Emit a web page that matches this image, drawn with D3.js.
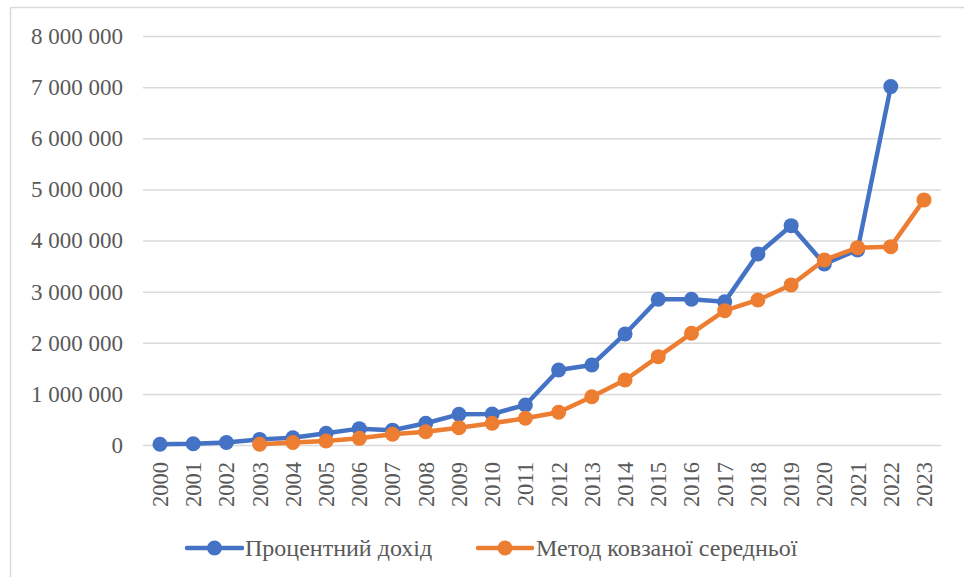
<!DOCTYPE html>
<html>
<head>
<meta charset="utf-8">
<script src="https://cdn.jsdelivr.net/npm/d3@7"></script>
<style>
  html, body { margin: 0; padding: 0; background: #fff; }
  svg { display: block; font-family: "Liberation Serif", "Times New Roman", serif; }
</style>
</head>
<body>
<svg id="chart" width="964" height="577"></svg>
<script>
const years = ["2000","2001","2002","2003","2004","2005","2006","2007","2008","2009","2010","2011",
               "2012","2013","2014","2015","2016","2017","2018","2019","2020","2021","2022","2023"];
const interestIncome = [15000, 25000, 50000, 110000, 143000, 229000, 320000, 290000, 425000, 600000, 607000, 783000,
                        1468000, 1566000, 2172000, 2850000, 2850000, 2800000, 3738000, 4290000, 3542000, 3816000, 7010000, null];
const movingAverage = [null, null, null, 15000, 50000, 78000, 130000, 210000, 260000, 339000, 425000, 522000,
                       640000, 945000, 1272000, 1728000, 2185000, 2628000, 2837000, 3131000, 3620000, 3860000, 3880000, 4794000];
const yTicks = [0, 1000000, 2000000, 3000000, 4000000, 5000000, 6000000, 7000000, 8000000];
const seriesNames = ["Процентний дохід", "Метод ковзаної середньої"];
const seriesColors = ["#4472C4", "#ED7D31"];

const svg = d3.select("#chart");
const textColor = "#595959";
const serif = '"Liberation Serif", "Times New Roman", serif';

// chart frame (left & top borders visible)
svg.append("rect").attr("x", 10.5).attr("y", 7.5).attr("width", 1000).attr("height", 600)
  .attr("fill", "none").attr("stroke", "#D9D9D9").attr("stroke-width", 1.5);

const plot = { left: 143, right: 941, top: 36, bottom: 445 };

const x = d3.scalePoint().domain(years).range([160, 924]);
const y = d3.scaleLinear().domain([0, 8000000]).range([plot.bottom, plot.top]);

const locale = d3.formatLocale({ decimal: ",", thousands: " ", grouping: [3], currency: ["", ""] });
const fmt = locale.format(",d");

// y axis with gridlines
const yAxis = svg.append("g")
  .attr("transform", `translate(${plot.left},0)`)
  .call(d3.axisLeft(y).tickValues(yTicks).tickFormat(fmt)
        .tickSize(-(plot.right - plot.left)).tickPadding(20));
yAxis.attr("font-family", null);
yAxis.select(".domain").remove();
yAxis.selectAll(".tick line").attr("stroke", "#D9D9D9").attr("stroke-width", 1.5);
yAxis.selectAll(".tick text").attr("fill", textColor).style("font-size", "23px")
  .style("font-family", serif);

// x axis
const xAxis = svg.append("g")
  .attr("transform", `translate(0,${plot.bottom})`)
  .call(d3.axisBottom(x).tickSize(0).tickPadding(0));
xAxis.attr("font-family", null);
xAxis.select(".domain").remove();
xAxis.selectAll(".tick text")
  .attr("fill", textColor).style("font-size", "22.5px")
  .style("font-family", serif)
  .attr("text-anchor", "end")
  .attr("transform", "rotate(-90)")
  .attr("x", -17).attr("y", 0).attr("dy", "0.33em");

// series
const seriesData = [interestIncome, movingAverage];
const line = d3.line()
  .defined(d => d.v != null)
  .x(d => x(d.year)).y(d => y(d.v));

seriesData.forEach((vals, i) => {
  const pts = years.map((yr, k) => ({ year: yr, v: vals[k] }));
  const g = svg.append("g");
  g.append("path").datum(pts).attr("d", line)
    .attr("fill", "none").attr("stroke", seriesColors[i])
    .attr("stroke-width", 4.5).attr("stroke-linejoin", "round").attr("stroke-linecap", "round");
  g.selectAll("circle").data(pts.filter(d => d.v != null)).join("circle")
    .attr("cx", d => x(d.year)).attr("cy", d => y(d.v)).attr("r", 7.5)
    .attr("fill", seriesColors[i]);
});

// legend
const legendItems = [{ x0: 187, x1: 242, tx: 245 }, { x0: 478, x1: 532, tx: 536 }];
const legendY = 548;
legendItems.forEach((it, i) => {
  const g = svg.append("g");
  g.append("line").attr("x1", it.x0).attr("x2", it.x1).attr("y1", legendY).attr("y2", legendY)
    .attr("stroke", seriesColors[i]).attr("stroke-width", 4.5).attr("stroke-linecap", "round");
  g.append("circle").attr("cx", (it.x0 + it.x1) / 2).attr("cy", legendY).attr("r", 7.5)
    .attr("fill", seriesColors[i]);
  g.append("text").attr("x", it.tx).attr("y", legendY).attr("dy", "0.35em")
    .attr("fill", textColor).style("font-size", "24px").style("font-family", serif)
    .text(seriesNames[i]);
});
</script>
</body>
</html>
